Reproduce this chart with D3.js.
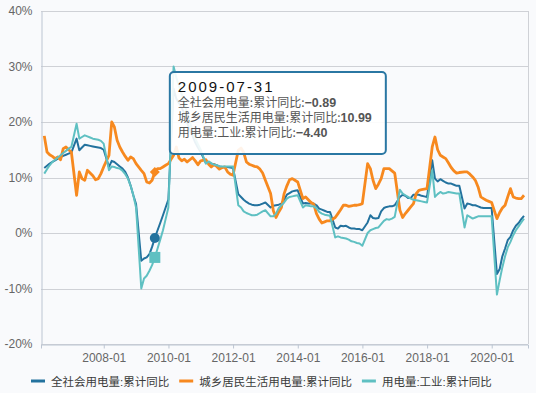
<!DOCTYPE html>
<html lang="zh">
<head>
<meta charset="utf-8">
<title>用电量累计同比</title>
<script src="https://cdn.jsdelivr.net/npm/d3@7"></script>
<style>
  body { margin: 0; background: #f9fafc; }
  svg { display: block; }
  text { font-family: "Liberation Sans", Arial, "Noto Sans CJK SC", sans-serif; }
</style>
</head>
<body>
<svg id="chart" width="536" height="393"></svg>
<script>
// data: cumulative YoY (%), one row per year, months Feb..Dec
var years = [2006, 2007, 2008, 2009, 2010, 2011, 2012, 2013, 2014, 2015, 2016, 2017, 2018, 2019, 2020];
var months = [2, 3, 4, 5, 6, 7, 8, 9, 10, 11, 12];

var totalYoY = [
  [11.7, 12.1, 12.5, 12.8, 13.1, 13.4, 13.7, 13.9, 14.1, 14.3, 14.5],
  [17.0, 14.9, 15.4, 15.9, 15.8, 15.7, 15.6, 15.5, 15.4, 15.3, 15.0],
  [11.9, 13.0, 12.8, 12.4, 12.0, 11.6, 11.0, 10.0, 8.5, 6.8, 5.2],
  [-5.0, -4.6, -4.4, -3.8, -2.5, -0.89, 0.5, 1.8, 3.2, 4.6, 6.0],
  [26.0, 24.2, 23.4, 22.5, 21.6, 19.9, 18.6, 17.5, 16.3, 15.4, 14.6],
  [12.6, 12.7, 12.5, 12.4, 12.2, 12.0, 11.9, 11.9, 11.9, 11.8, 11.7],
  [7.0, 6.5, 6.0, 5.6, 5.3, 5.1, 5.0, 5.0, 5.1, 5.3, 5.5],
  [4.6, 4.9, 5.0, 5.1, 5.3, 6.0, 6.9, 7.2, 7.5, 7.6, 7.7],
  [5.3, 5.4, 5.3, 5.3, 5.3, 5.0, 4.4, 4.2, 4.0, 3.8, 3.8],
  [1.0, 0.8, 1.3, 1.2, 1.3, 1.0, 0.8, 0.8, 0.7, 0.7, 0.5],
  [1.9, 3.2, 2.7, 2.6, 2.7, 3.9, 4.5, 4.7, 4.8, 4.8, 5.0],
  [6.5, 6.9, 6.7, 6.3, 6.3, 6.9, 6.9, 6.9, 6.7, 6.6, 6.5],
  [13.1, 9.8, 9.3, 9.7, 9.4, 9.1, 8.9, 8.9, 8.7, 8.5, 8.5],
  [4.4, 5.3, 5.2, 5.0, 5.0, 4.8, 4.6, 4.5, 4.5, 4.5, 4.5],
  [-7.4, -6.5, -4.2, -2.8, -1.3, -0.7, 0.5, 1.3, 1.8, 2.5, 3.1]
];

var residentYoY = [
  [17.5, 14.6, 14.1, 13.8, 13.4, 13.7, 13.2, 15.2, 15.5, 15.0, 14.6],
  [6.8, 11.0, 9.8, 9.5, 11.3, 10.8, 10.3, 9.6, 9.8, 10.7, 11.9],
  [14.0, 20.0, 19.1, 16.7, 15.5, 14.6, 13.8, 13.1, 13.7, 13.4, 12.5],
  [11.3, 10.7, 9.2, 9.0, 9.5, 10.99, 11.6, 11.6, 11.9, 12.2, 12.5],
  [14.0, 15.5, 13.5, 13.0, 13.3, 12.8, 13.2, 13.6, 13.0, 12.3, 13.0],
  [13.2, 12.4, 11.9, 12.3, 12.0, 11.5, 11.8, 11.9, 11.0, 10.6, 10.4],
  [14.9, 15.3, 14.5, 12.8, 12.4, 12.2, 12.0, 11.9, 11.5, 10.8, 9.5],
  [7.1, 4.0, 2.8, 3.8, 4.6, 7.1, 8.5, 9.6, 9.8, 9.5, 9.2],
  [6.2, 6.5, 6.0, 5.5, 5.2, 3.5, 2.5, 1.8, 2.0, 2.2, 2.2],
  [2.8, 3.5, 4.2, 5.0, 5.0, 4.8, 4.9, 5.0, 5.0, 5.1, 5.3],
  [12.5, 11.6, 9.5, 8.0, 8.8, 9.8, 11.6, 11.6, 11.6, 11.2, 10.8],
  [4.1, 2.8, 3.5, 4.1, 4.7, 5.3, 7.1, 7.7, 7.8, 7.9, 8.0],
  [15.5, 17.3, 15.0, 14.0, 13.7, 13.4, 12.6, 11.8, 11.2, 10.8, 10.9],
  [11.0, 11.0, 10.6, 10.1, 9.5, 8.3, 6.5, 6.2, 5.9, 5.7, 5.5],
  [2.6, 3.7, 4.5, 5.0, 6.5, 8.0, 6.5, 6.3, 6.2, 6.2, 6.8]
];

var industryYoY = [
  [10.7, 11.5, 12.2, 12.8, 13.2, 13.6, 14.0, 14.4, 14.8, 15.2, 15.5],
  [19.7, 17.0, 17.3, 17.6, 17.4, 17.2, 17.0, 16.9, 16.8, 16.6, 16.1],
  [11.3, 12.0, 11.9, 11.7, 11.6, 11.2, 10.6, 9.8, 8.5, 6.8, 4.6],
  [-10.0, -8.2, -7.7, -6.8, -5.8, -4.40, -2.8, -1.2, 0.5, 2.5, 4.6],
  [30.0, 28.0, 26.5, 25.0, 23.5, 21.5, 20.0, 18.5, 17.0, 16.0, 15.0],
  [12.5, 12.9, 12.6, 12.3, 12.2, 12.0, 12.0, 12.0, 12.0, 12.0, 12.0],
  [5.0, 4.6, 3.9, 3.6, 3.4, 3.2, 3.2, 3.3, 3.6, 3.9, 4.1],
  [3.0, 3.0, 3.5, 4.5, 5.0, 5.5, 6.2, 6.5, 6.6, 6.7, 6.8],
  [4.6, 5.0, 4.9, 4.8, 4.8, 4.5, 3.8, 3.5, 3.3, 3.2, 3.1],
  [-0.8, -0.6, -0.8, -0.9, -1.0, -1.2, -1.5, -1.6, -1.8, -1.9, -2.3],
  [0.0, 0.5, 0.7, 0.9, 1.0, 1.6, 2.2, 2.5, 2.4, 2.6, 2.9],
  [7.8, 7.1, 6.8, 6.5, 6.2, 6.0, 5.9, 5.8, 5.7, 5.6, 5.5],
  [11.3, 6.5, 7.0, 7.4, 7.1, 7.2, 7.4, 7.3, 7.2, 7.1, 7.1],
  [1.0, 3.2, 2.9, 2.6, 2.8, 3.0, 3.0, 3.0, 3.0, 3.0, 3.0],
  [-11.1, -8.5, -6.2, -4.2, -2.6, -1.6, -0.4, 0.5, 1.2, 1.9, 2.6]
];

var seriesNames = ["全社会用电量:累计同比", "城乡居民生活用电量:累计同比", "用电量:工业:累计同比"];
var seriesColors = ["#23729e", "#f7891f", "#5fc0c2"];
var yTicks = [-20, -10, 0, 10, 20, 30, 40];
var xTickLabels = ["2008-01", "2010-01", "2012-01", "2014-01", "2016-01", "2018-01", "2020-01"];
var hoverDate = "2009-07-31";

var parseDay = d3.timeParse("%Y-%m-%d");
var parseMonth = d3.timeParse("%Y-%m");

// month-end dates
var dates = [];
years.forEach(function(y) {
  months.forEach(function(m) { dates.push(new Date(y, m, 0)); });
});

function flatten(rows) {
  var out = [];
  rows.forEach(function(r) { r.forEach(function(v) { out.push(v); }); });
  return out;
}
var series = [totalYoY, residentYoY, industryYoY].map(function(rows, i) {
  var vals = flatten(rows);
  return { name: seriesNames[i], color: seriesColors[i],
           points: vals.map(function(v, j) { return { date: dates[j], value: v }; }) };
});

var svg = d3.select("#chart");
var margin = { left: 41, right: 8, top: 11, bottom: 49 };
var W = 536, H = 393;

var x = d3.scaleTime()
  .domain([parseDay("2006-01-22"), parseDay("2021-02-14")])
  .range([margin.left, W - margin.right]);
var y = d3.scaleLinear()
  .domain([-20, 40])
  .range([H - margin.bottom, margin.top]);

// gridlines
svg.append("g")
  .selectAll("line").data(yTicks).join("line")
  .attr("x1", margin.left).attr("x2", W - margin.right)
  .attr("y1", function(d) { return Math.round(y(d)) + 0.5; })
  .attr("y2", function(d) { return Math.round(y(d)) + 0.5; })
  .attr("stroke", "#cfd1d6").attr("stroke-width", 1);

// right border
svg.append("line")
  .attr("x1", W - margin.right + 0.5).attr("x2", W - margin.right + 0.5)
  .attr("y1", margin.top).attr("y2", H - margin.bottom)
  .attr("stroke", "#cfd1d6");

// y axis
var yAxis = svg.append("g")
  .attr("transform", "translate(" + (margin.left + 0.5) + ",0)")
  .call(d3.axisLeft(y).tickValues(yTicks).tickSize(0).tickPadding(9)
    .tickFormat(function(d) { return d + "%"; }));
yAxis.select(".domain").attr("stroke", "#bcc5d2");
yAxis.selectAll("text").attr("font-size", 12).attr("fill", "#666");

// x axis
var xAxis = svg.append("g")
  .attr("transform", "translate(0," + (Math.round(y(-20)) + 0.5) + ")")
  .call(d3.axisBottom(x).tickValues(xTickLabels.map(parseMonth)).tickSize(4).tickPadding(5)
    .tickFormat(d3.timeFormat("%Y-%m")));
xAxis.select(".domain").attr("stroke", "#bcc5d2");
xAxis.selectAll(".tick line").attr("stroke", "#bcc5d2");
xAxis.selectAll("text").attr("font-size", 12).attr("fill", "#666");

// lines
var line = d3.line()
  .x(function(d) { return x(d.date); })
  .y(function(d) { return y(d.value); });

svg.append("g").selectAll("path").data(series).join("path")
  .attr("d", function(d) { return line(d.points); })
  .attr("fill", "none")
  .attr("stroke", function(d) { return d.color; })
  .attr("stroke-width", function(d, i) { return i === 1 ? 2.8 : 2; })
  .attr("stroke-linejoin", "round");

// hover markers
var hd = parseDay(hoverDate);
var hoverVals = series.map(function(s) {
  return s.points.find(function(p) { return +p.date === +hd; }).value;
});
var hx = x(hd);
svg.append("circle").attr("cx", hx).attr("cy", y(hoverVals[0])).attr("r", 5)
  .attr("fill", seriesColors[0]);
svg.append("path").attr("d", d3.symbol(d3.symbolSquare, 50)())
  .attr("transform", "translate(" + hx + "," + y(hoverVals[1]) + ") rotate(45)")
  .attr("fill", seriesColors[1]);
svg.append("rect").attr("x", hx - 5.5).attr("y", y(hoverVals[2]) - 5.5)
  .attr("width", 11).attr("height", 11).attr("fill", seriesColors[2]);

// tooltip
var tip = svg.append("g").attr("transform", "translate(" + (hx + 15) + ",72)");
tip.append("rect").attr("width", 216).attr("height", 82).attr("rx", 4)
  .attr("fill", "#fff").attr("fill-opacity", 0.9)
  .attr("stroke", "#2a77a3").attr("stroke-width", 2);
tip.append("text").attr("x", 8).attr("y", 19.5).attr("font-size", 15)
  .attr("letter-spacing", 2).attr("fill", "#111").text(hoverDate);
series.forEach(function(s, i) {
  var t = tip.append("text").attr("x", 8).attr("y", 35 + i * 15)
    .attr("font-size", 12).attr("fill", "#555");
  t.append("tspan").attr("font-family", "Noto Sans CJK SC").text(s.name + ":");
  t.append("tspan").attr("font-weight", "bold").attr("font-size", 12.5)
    .text(d3.format(".2f")(hoverVals[i]).replace("-", "\u2013"));
});

// legend
var legend = svg.append("g").attr("transform", "translate(0,381)");
var lx = 31;
series.forEach(function(s) {
  var g = legend.append("g").attr("transform", "translate(" + lx + ",0)");
  g.append("line").attr("x1", 0).attr("x2", 14).attr("y1", 0).attr("y2", 0)
    .attr("stroke", s.color).attr("stroke-width", 3);
  var t = g.append("text").attr("x", 20).attr("y", 4.5).attr("font-size", 11.5)
    .attr("font-family", "Noto Sans CJK SC").attr("fill", "#3a3a3a").text(s.name);
  lx += 20 + t.node().getComputedTextLength() + 10;
});
</script>
</body>
</html>
